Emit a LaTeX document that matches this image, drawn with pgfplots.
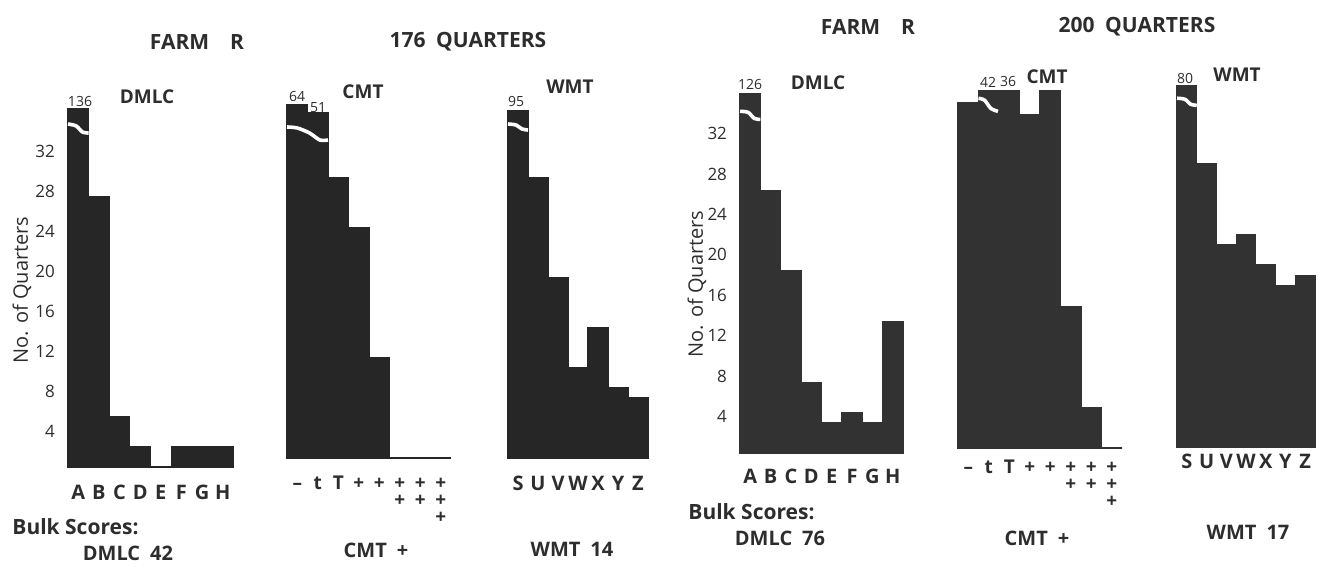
\documentclass[border=0pt]{standalone}
\usepackage{fontspec}
\setmainfont{Open Sans}
\usepackage{pgfplots}
\pgfplotsset{compat=1.18}
\usepackage{pgfplotstable}

\definecolor{barL}{RGB}{38,38,38}
\definecolor{barR}{RGB}{50,50,50}
\definecolor{ink}{RGB}{45,45,45}

% n = number of quarters, shown = height drawn (broken bars are cut)
% last row repeats the last bar to close the step outline
\pgfplotstableread{
x n shown
0 136 35.8
1 27 27
2 5 5
3 2 2
4 0 0
5 2 2
6 2 2
7 2 2
8 2 2
}\dmlcL
\pgfplotstableread{
x n shown
0 64 35.3
1 51 34.5
2 28 28
3 23 23
4 10 10
5 0 0
6 0 0
7 0 0
8 0 0
}\cmtL
\pgfplotstableread{
x n shown
0 95 34.7
1 28 28
2 18 18
3 9 9
4 13 13
5 7 7
6 6 6
7 6 6
}\wmtL
\pgfplotstableread{
x n shown
0 126 35.6
1 26 26
2 18 18
3 7 7
4 3 3
5 4 4
6 3 3
7 13 13
8 13 13
}\dmlcR
\pgfplotstableread{
x n shown
0 34 34.2
1 42 35.4
2 36 35.4
3 33 33
4 37 35.4
5 14 14
6 4 4
7 0 0
8 0 0
}\cmtR
\pgfplotstableread{
x n shown
0 80 35.8
1 28 28
2 20 20
3 21 21
4 18 18
5 16 16
6 17 17
7 17 17
}\wmtR

\newcommand{\T}{\vphantom{T}}

\pgfplotsset{
  hist/.style={
    scale only axis, anchor=south west, clip=false,
    xmin=0, ymin=0, ymax=37,
    axis line style={draw=none}, tick style={draw=none},
    ytick=\empty,
    /pgf/number format/assume math mode=true,
    xticklabel style={font=\bfseries\fontsize{10}{9}\selectfont, text=ink, align=center, anchor=north, inner sep=0pt},
  },
  dmlc/.style={
    xmax=8, xtick={0.5,1.5,...,7.5},
    xticklabels={A,B,C,D,E,F,G,H},
    ytick={4,8,...,32},
    yticklabel style={font=\fontsize{8.5}{9}\selectfont, text=ink, xshift=-3pt, yshift=-2pt},
  },
  cmt/.style={
    xmax=8, xtick={0.5,1.5,...,7.5},
    xticklabels={\T–,\T t,\T T,\T+,\T+,{\T+\\+},{\T+\\+},{\T+\\+\\+}},
    xticklabel style={font=\bfseries\fontsize{9.5}{8.5}\selectfont},
  },
  wmt/.style={
    xmax=7, xtick={0.5,1.5,...,6.5},
    xticklabels={S,U,V,W,X,Y,Z},
  },
}

\begin{document}
\begin{tikzpicture}
\path (0,0) rectangle (660pt,284pt);

% ---------- FARM R, 176 quarters ----------
\begin{axis}[hist, dmlc, at={(34pt,50.5pt)}, width=82.5pt, height=185pt,
  xticklabel style={yshift=-9pt}]
  \addplot[const plot, fill=barL, draw=barL, line width=0.6pt] table[x=x,y=shown]{\dmlcL} \closedcycle;
  \addplot[white, line width=1.8pt, smooth] coordinates {(0,34.3)(0.4,34.1)(0.7,33.5)(1,33.4)};
\end{axis}

\begin{axis}[hist, cmt, at={(143.5pt,55pt)}, width=82pt, height=185pt,
  xticklabel style={yshift=-9pt}]
  \addplot[const plot, fill=barL, draw=barL, line width=0.6pt] table[x=x,y=shown]{\cmtL} \closedcycle;
  \addplot[white, line width=1.8pt, smooth] coordinates {(0,33.1)(0.5,33.0)(1.1,32.5)(1.6,31.8)(2,31.8)};
\end{axis}

\begin{axis}[hist, wmt, at={(254pt,55pt)}, width=70pt, height=185pt,
  xticklabel style={yshift=-9pt}]
  \addplot[const plot, fill=barL, draw=barL, line width=0.6pt] table[x=x,y=shown]{\wmtL} \closedcycle;
  \addplot[white, line width=1.8pt, smooth] coordinates {(0,33.4)(0.4,33.3)(0.7,32.9)(1,32.8)};
\end{axis}

% ---------- FARM R, 200 quarters ----------
\begin{axis}[hist, dmlc, at={(370pt,57.5pt)}, width=81.5pt, height=187pt,
  xticklabel style={yshift=-8pt}]
  \addplot[const plot, fill=barR, draw=barR, line width=0.6pt] table[x=x,y=shown]{\dmlcR} \closedcycle;
  \addplot[white, line width=1.8pt, smooth] coordinates {(0,33.8)(0.4,33.7)(0.7,33.1)(1,33.0)};
\end{axis}

\begin{axis}[hist, cmt, at={(479pt,60pt)}, width=82pt, height=187pt,
  xticklabel style={yshift=-6pt}]
  \addplot[const plot, fill=barR, draw=barR, line width=0.6pt] table[x=x,y=shown]{\cmtR} \closedcycle;
  \addplot[white, line width=1.8pt, smooth] coordinates {(1,34.6)(1.3,34.4)(1.6,33.6)(1.95,33.3)};
\end{axis}

\begin{axis}[hist, wmt, at={(588.5pt,60.5pt)}, width=69pt, height=187pt,
  xticklabel style={yshift=-3.5pt}]
  \addplot[const plot, fill=barR, draw=barR, line width=0.6pt] table[x=x,y=shown]{\wmtR} \closedcycle;
  \addplot[white, line width=1.8pt, smooth] coordinates {(0,34.5)(0.4,34.4)(0.7,33.9)(1,33.8)};
\end{axis}

% ---------- texts ----------
\begin{scope}[every node/.style={text=ink, inner sep=0pt}]
\node[font=\bfseries\fontsize{10.5}{12}\selectfont] at (98.5pt,263pt) {FARM\enspace\enspace R};
\node[font=\bfseries\fontsize{10.5}{12}\selectfont] at (234pt,263pt) {176\enspace QUARTERS};
\node[font=\bfseries\fontsize{10.5}{12}\selectfont] at (434pt,270.5pt) {FARM\enspace\enspace R};
\node[font=\bfseries\fontsize{10.5}{12}\selectfont] at (568.5pt,270.5pt) {200\enspace QUARTERS};

\node[font=\bfseries\fontsize{9.5}{11}\selectfont] at (73.5pt,235.5pt) {DMLC};
\node[font=\fontsize{7}{8}\selectfont] at (40pt,233pt) {136};
\node[font=\fontsize{7}{8}\selectfont] at (148.5pt,235.5pt) {64};
\node[font=\fontsize{7}{8}\selectfont] at (159pt,230pt) {51};
\node[font=\bfseries\fontsize{9.5}{11}\selectfont] at (181.5pt,238pt) {CMT};
\node[font=\fontsize{7}{8}\selectfont] at (258pt,233pt) {95};
\node[font=\bfseries\fontsize{9.5}{11}\selectfont] at (285pt,240.5pt) {WMT};

\node[font=\fontsize{7}{8}\selectfont] at (375pt,241.5pt) {126};
\node[font=\bfseries\fontsize{9.5}{11}\selectfont] at (409pt,242.5pt) {DMLC};
\node[font=\fontsize{7}{8}\selectfont] at (494pt,243pt) {42};
\node[font=\fontsize{7}{8}\selectfont] at (504pt,243pt) {36};
\node[font=\bfseries\fontsize{9.5}{11}\selectfont] at (523.5pt,245.5pt) {CMT};
\node[font=\fontsize{7}{8}\selectfont] at (592.5pt,245pt) {80};
\node[font=\bfseries\fontsize{9.5}{11}\selectfont] at (618.5pt,246.5pt) {WMT};

\node[rotate=90, font=\fontsize{10}{12}\selectfont] at (11pt,139pt) {No. of Quarters};
\node[rotate=90, font=\fontsize{10}{12}\selectfont] at (348.5pt,142pt) {No. of Quarters};

\node[anchor=west, font=\bfseries\fontsize{10.5}{12}\selectfont] at (6pt,20.5pt) {Bulk Scores:};
\node[font=\bfseries\fontsize{10}{12}\selectfont] at (64pt,7.5pt) {DMLC\enspace 42};
\node[font=\bfseries\fontsize{10}{12}\selectfont] at (188pt,9pt) {CMT\enspace +};
\node[font=\bfseries\fontsize{10}{12}\selectfont] at (286pt,9.5pt) {WMT\enspace 14};
\node[anchor=west, font=\bfseries\fontsize{10.5}{12}\selectfont] at (344pt,28pt) {Bulk Scores:};
\node[font=\bfseries\fontsize{10}{12}\selectfont] at (390pt,15pt) {DMLC\enspace 76};
\node[font=\bfseries\fontsize{10}{12}\selectfont] at (518.5pt,15pt) {CMT\enspace +};
\node[font=\bfseries\fontsize{10}{12}\selectfont] at (624pt,18pt) {WMT\enspace 17};
\end{scope}
\end{tikzpicture}
\end{document}
